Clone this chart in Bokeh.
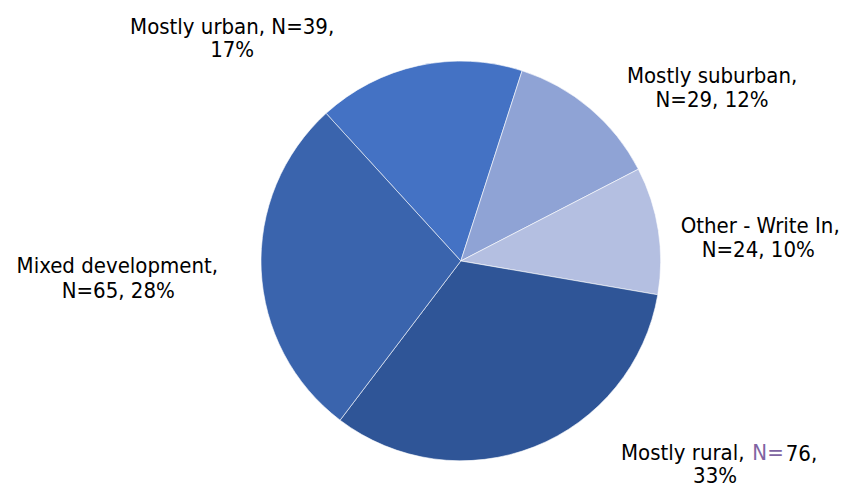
import numpy as np
from bokeh.plotting import figure
from bokeh.models import Range1d, ColumnDataSource
from bokeh.core.properties import value
from bokeh.embed import file_html
from bokeh.resources import INLINE

categories = ["Mostly urban", "Mostly suburban", "Other - Write In", "Mostly rural", "Mixed development"]
counts = [39, 29, 24, 76, 65]
colors = ["#4472C4", "#8FA3D5", "#B4BFE1", "#2F5597", "#3A64AD"]

W, H = 850, 487
SX, SY = W / 866, H / 503
FONT = "DejaVu Sans Condensed, DejaVu Sans"
FS = "22px"

def dx(px):
    return px * SX

def dy(py):
    return H - py * SY

total = sum(counts)
pcts = [round(100 * c / total) for c in counts]

# clockwise-from-top angles
start_cw = -42.4
theta = [start_cw]
for c in counts:
    theta.append(theta[-1] + 360 * c / total)
starts = [np.radians(90 - theta[i + 1]) for i in range(len(counts))]
ends = [np.radians(90 - theta[i]) for i in range(len(counts))]

cx, cy, r = dx(469), dy(269), 205 * (SX + SY) / 2

p = figure(width=W, height=H, x_range=Range1d(0, W), y_range=Range1d(0, H),
           output_backend="svg", toolbar_location=None, min_border=0,
           x_axis_location=None, y_axis_location=None)
p.grid.visible = False
p.outline_line_color = None

src = ColumnDataSource(dict(x=[cx] * len(counts), y=[cy] * len(counts),
                            start=starts, end=ends, color=colors, cat=categories))
p.wedge(x="x", y="y", radius=r, start_angle="start", end_angle="end",
        fill_color="color", line_color="#FFFFFF", line_width=0.6, source=src)

# label lines: (text, px, py_baseline, align, color) in reference pixels
lines = []
lines.append((f"{categories[0]}, N={counts[0]},", 236, 27, "center", "#000000"))
lines.append((f"{pcts[0]}%", 236, 51, "center", "#000000"))
lines.append((f"{categories[1]},", 725, 77, "center", "#000000"))
lines.append((f"N={counts[1]}, {pcts[1]}%", 725, 102, "center", "#000000"))
lines.append((f"{categories[2]},", 774, 232, "center", "#000000"))
lines.append((f"N={counts[2]}, {pcts[2]}%", 772, 257, "center", "#000000"))
lines.append((f"{categories[4]},", 119, 274, "center", "#000000"))
lines.append((f"N={counts[4]}, {pcts[4]}%", 120, 300, "center", "#000000"))
xN = 766
lines.append((f"{categories[3]},", 758, 467, "right", "#000000"))
lines.append(("N=", xN, 467, "left", "#8064A2"))
lines.append((f"{counts[3]},", 800, 467, "left", "#000000"))
lines.append((f"{pcts[3]}%", 728, 491, "center", "#000000"))

lsrc = ColumnDataSource(dict(
    x=[dx(l[1]) for l in lines], y=[dy(l[2]) for l in lines],
    text=[l[0] for l in lines], align=[l[3] for l in lines], color=[l[4] for l in lines]))
p.text(x="x", y="y", text="text", text_align="align", text_color="color",
       text_baseline="alphabetic", text_font=value(FONT), text_font_size=FS, source=lsrc)

open("out.html", "w").write(file_html(p, INLINE))
